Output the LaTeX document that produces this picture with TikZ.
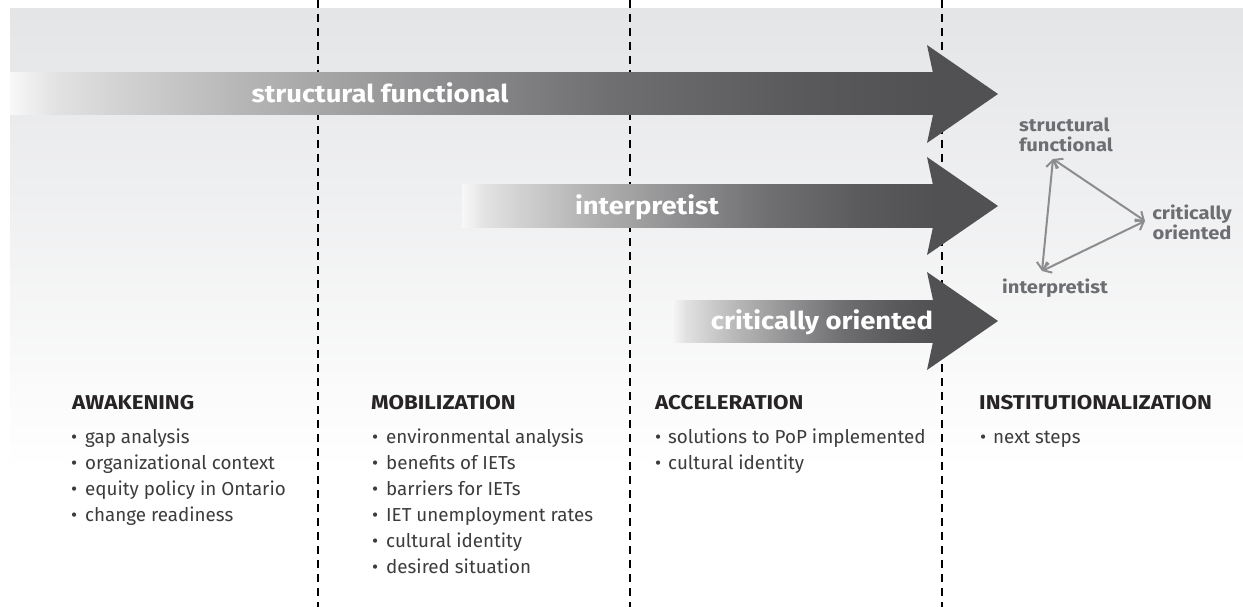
\documentclass[tikz,border=0pt]{standalone}
\usepackage{fontspec}
\setmainfont{Fira Sans}
\newfontfamily\widebold{Fira Sans}[FakeStretch=1.12]
\usetikzlibrary{arrows.meta}

\definecolor{bandtop}{HTML}{E4E5E7}
\definecolor{arrowdark}{HTML}{515153}
\definecolor{fadeW}{HTML}{F8F8F8}
\definecolor{fadeA}{HTML}{E2E2E2}
\definecolor{fadeB}{HTML}{D2D2D2}
\definecolor{fadeC}{HTML}{B4B4B4}
\definecolor{fadeD}{HTML}{8C8C8E}
\definecolor{fadeE}{HTML}{6F6F71}
\definecolor{fadeF}{HTML}{5A5A5C}
\definecolor{headink}{HTML}{262425}
\definecolor{listink}{HTML}{3C3C3D}
\definecolor{trilabel}{HTML}{6D6E71}
\definecolor{triline}{HTML}{8D8D8F}

% fade used along the shafts of the three paradigm arrows
\pgfdeclarehorizontalshading{shaftfade}{100bp}{%
  color(0bp)=(fadeW); color(25bp)=(fadeW); color(27.5bp)=(fadeA);
  color(31bp)=(fadeB); color(38bp)=(fadeC); color(49bp)=(fadeD);
  color(57.5bp)=(fadeE); color(67.5bp)=(fadeF); color(75bp)=(arrowdark);
  color(100bp)=(arrowdark)}

\begin{document}
\begin{tikzpicture}[x=1pt,y=-1pt,
  separator/.style={black,line width=1.5pt,dash pattern=on 8pt off 6pt},
  bandtext/.style={inner sep=0pt,anchor=base,text=white,
    font=\widebold\fontsize{24.5}{28}\selectfont\bfseries},
  phasehead/.style={inner sep=0pt,anchor=base west,text=headink,
    font=\widebold\fontsize{20}{24}\selectfont\bfseries},
  item/.style={inner sep=0pt,anchor=base west,text=listink,
    font=\fontsize{18.8}{22}\selectfont},
  trilab/.style={inner sep=0pt,text=trilabel,
    font=\widebold\fontsize{18}{20}\selectfont\bfseries},
  tri/.style={draw=triline,line width=2pt,
    {Straight Barb[length=7pt,width=12pt]}-{Straight Barb[length=7pt,width=12pt]}}
]
\useasboundingbox (0,0) rectangle (1243,607);
\fill[white] (0,0) rectangle (1243,607);
% soft grey band behind the arrows
\shade[top color=bandtop,bottom color=white] (10,9) rectangle (1243,470);

% phase separators
\foreach \xx in {318,630,942}
  \draw[separator] (\xx,0) -- (\xx,607);

% paradigm arrows
\foreach \nm/\xs/\yc/\lbl/\tx in {sf/10/94/structural functional/380,
    ip/462/206/interpretist/647, co/672/321/critically oriented/822}{
  \shade[shading=shaftfade] (\xs,\yc-21) rectangle (934,\yc+21);
  \fill[arrowdark] (933,\yc-21) -- (927,\yc-49) -- (998,\yc)
    -- (927,\yc+49) -- (933,\yc+21) -- cycle;
  \node[bandtext] (\nm) at (\tx,\yc+8.5) {\lbl};
}

% phase headings
\node[phasehead] (awk) at (72,409.5) {AWAKENING};
\node[phasehead] (mob) at (371,409.5) {MOBILIZATION};
\node[phasehead] (acc) at (655,409.5) {ACCELERATION};
\node[phasehead] (ins) at (979,409.5) {INSTITUTIONALIZATION};

% phase contents
\foreach \t [count=\i] in {gap analysis, organizational context,
    equity policy in Ontario, change readiness}
  \node[item] (awk\i) at (71,{443+26*\i-26}) {\makebox[14pt][l]{•}\t};
\foreach \t [count=\i] in {environmental analysis, benefits of IETs,
    barriers for IETs, IET unemployment rates, cultural identity,
    desired situation}
  \node[item] (mob\i) at (372,{443+26*\i-26}) {\makebox[14pt][l]{•}\t};
\foreach \t [count=\i] in {solutions to PoP implemented, cultural identity}
  \node[item] (acc\i) at (655,{443+26*\i-26}) {\makebox[13pt][l]{•}\t};
\node[item] (ins1) at (980,443) {\makebox[13pt][l]{•}next steps};

% triangle of paradigms
\node[trilab,align=left,anchor=west] (tsf) at (1019,134.5) {structural\\functional};
\node[trilab,align=center] (tco) at (1192,222.5) {critically\\oriented};
\node[trilab,anchor=base west] (tip) at (1002,293) {interpretist};
\coordinate (vsf) at (1053,159);
\coordinate (vco) at (1145,221);
\coordinate (vin) at (1042,271);
\draw[tri] (vin) -- (vsf);
\draw[tri] (vsf) -- (vco);
\draw[tri] (vin) -- (vco);
\end{tikzpicture}
\end{document}
